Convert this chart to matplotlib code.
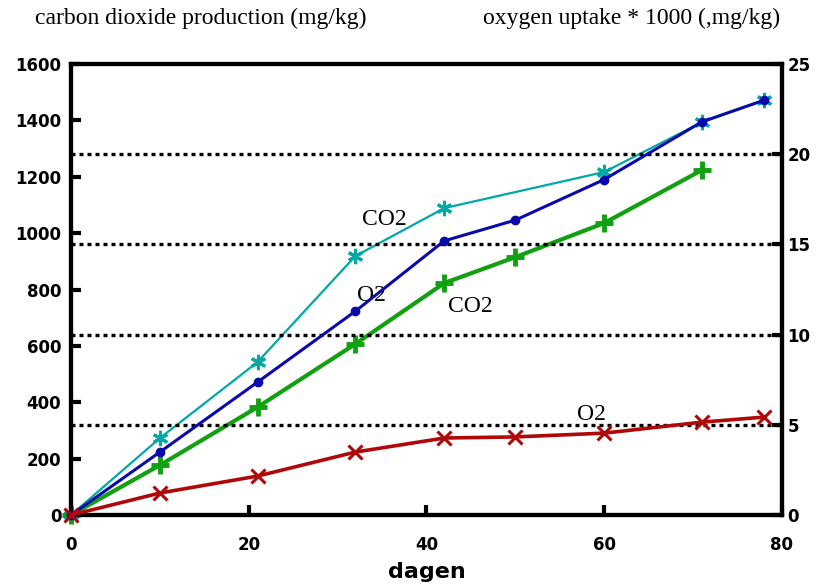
import matplotlib
matplotlib.use('Agg')
import matplotlib.pyplot as plt

# days
days_co2_a = [0, 10, 21, 32, 42, 60, 71, 78]
co2_a = [0, 273, 543, 919, 1089, 1217, 1394, 1472]      # cyan, asterisk

days_co2_b = [0, 10, 21, 32, 42, 50, 60, 71]
co2_b = [0, 177, 383, 607, 823, 915, 1036, 1224]        # green, plus

days_o2 = [0, 10, 21, 32, 42, 50, 60, 71, 78]
o2_a = [0, 3.49, 7.37, 11.3, 15.2, 16.35, 18.6, 21.8, 23.0]   # blue, dot
o2_b = [0, 1.22, 2.16, 3.49, 4.27, 4.33, 4.54, 5.15, 5.43]    # red, x

left_ticks = [0, 200, 400, 600, 800, 1000, 1200, 1400, 1600]
right_ticks = [0, 5, 10, 15, 20, 25]
x_ticks = [0, 20, 40, 60, 80]

serif = 'Liberation Serif'

fig = plt.figure(figsize=(8.17, 5.88), dpi=100)
ax = fig.add_axes([0.0869, 0.1241, 0.8702, 0.7669])
ax2 = ax.twinx()

ax.set_xlim(0, 80)
ax.set_ylim(0, 1600)
ax2.set_ylim(0, 25)

# dotted grid from the right axis
for v in right_ticks[1:-1]:
    ax2.axhline(v, color='black', lw=2.4, ls=(0, (1.2, 1.2)), zorder=1)

ax.plot(days_co2_a, co2_a, color='#00a8a8', lw=1.6, marker=(6, 2, 0), ms=11, mew=2.2, zorder=5, clip_on=False)
ax.plot(days_co2_b, co2_b, color='#10a010', lw=3, zorder=5, clip_on=False)
ax.plot(days_co2_b, co2_b, ls='none', color='#10a010', marker='+', ms=13, mew=3.5, zorder=6, clip_on=False)
ax2.plot(days_o2, o2_a, color='#0a0aaa', lw=2.2, marker='o', ms=6, zorder=5, clip_on=False)
ax2.plot(days_o2, o2_b, color='#b00808', lw=2.6, marker='x', ms=10, mew=2.2, zorder=5, clip_on=False)

ax.text(35.3, 1050, 'CO2', color='black', fontsize=17, family=serif, ha='center', va='center')
ax.text(33.8, 780, 'O2', color='black', fontsize=17, family=serif, ha='center', va='center')
ax.text(44.9, 740, 'CO2', color='black', fontsize=17, family=serif, ha='center', va='center')
ax.text(58.6, 355, 'O2', color='black', fontsize=17, family=serif, ha='center', va='center')

for a in (ax, ax2):
    for s in a.spines.values():
        s.set_linewidth(3)

ax.set_xticks(x_ticks)
ax.set_yticks(left_ticks)
ax2.set_yticks(right_ticks)
ax.tick_params(axis='x', direction='in', length=7, width=3, pad=15)
ax.tick_params(axis='y', direction='in', length=7, width=3, pad=7)
ax2.tick_params(axis='y', direction='in', length=7, width=3, pad=4)
for lab in ax.get_xticklabels() + ax.get_yticklabels() + ax2.get_yticklabels():
    lab.set_fontfamily('DejaVu Sans')
    lab.set_fontweight('heavy')
    lab.set_fontsize(12)

ax.set_xlabel('dagen', fontsize=16, fontweight='heavy', family='DejaVu Sans', labelpad=6)

fig.text(35 / 817, 1 - 18 / 588, 'carbon dioxide production (mg/kg)', family=serif, fontsize=17, ha='left', va='center')
fig.text(780 / 817, 1 - 18 / 588, 'oxygen uptake * 1000 (,mg/kg)', family=serif, fontsize=17, ha='right', va='center')

fig.savefig('out.png', dpi=100)
